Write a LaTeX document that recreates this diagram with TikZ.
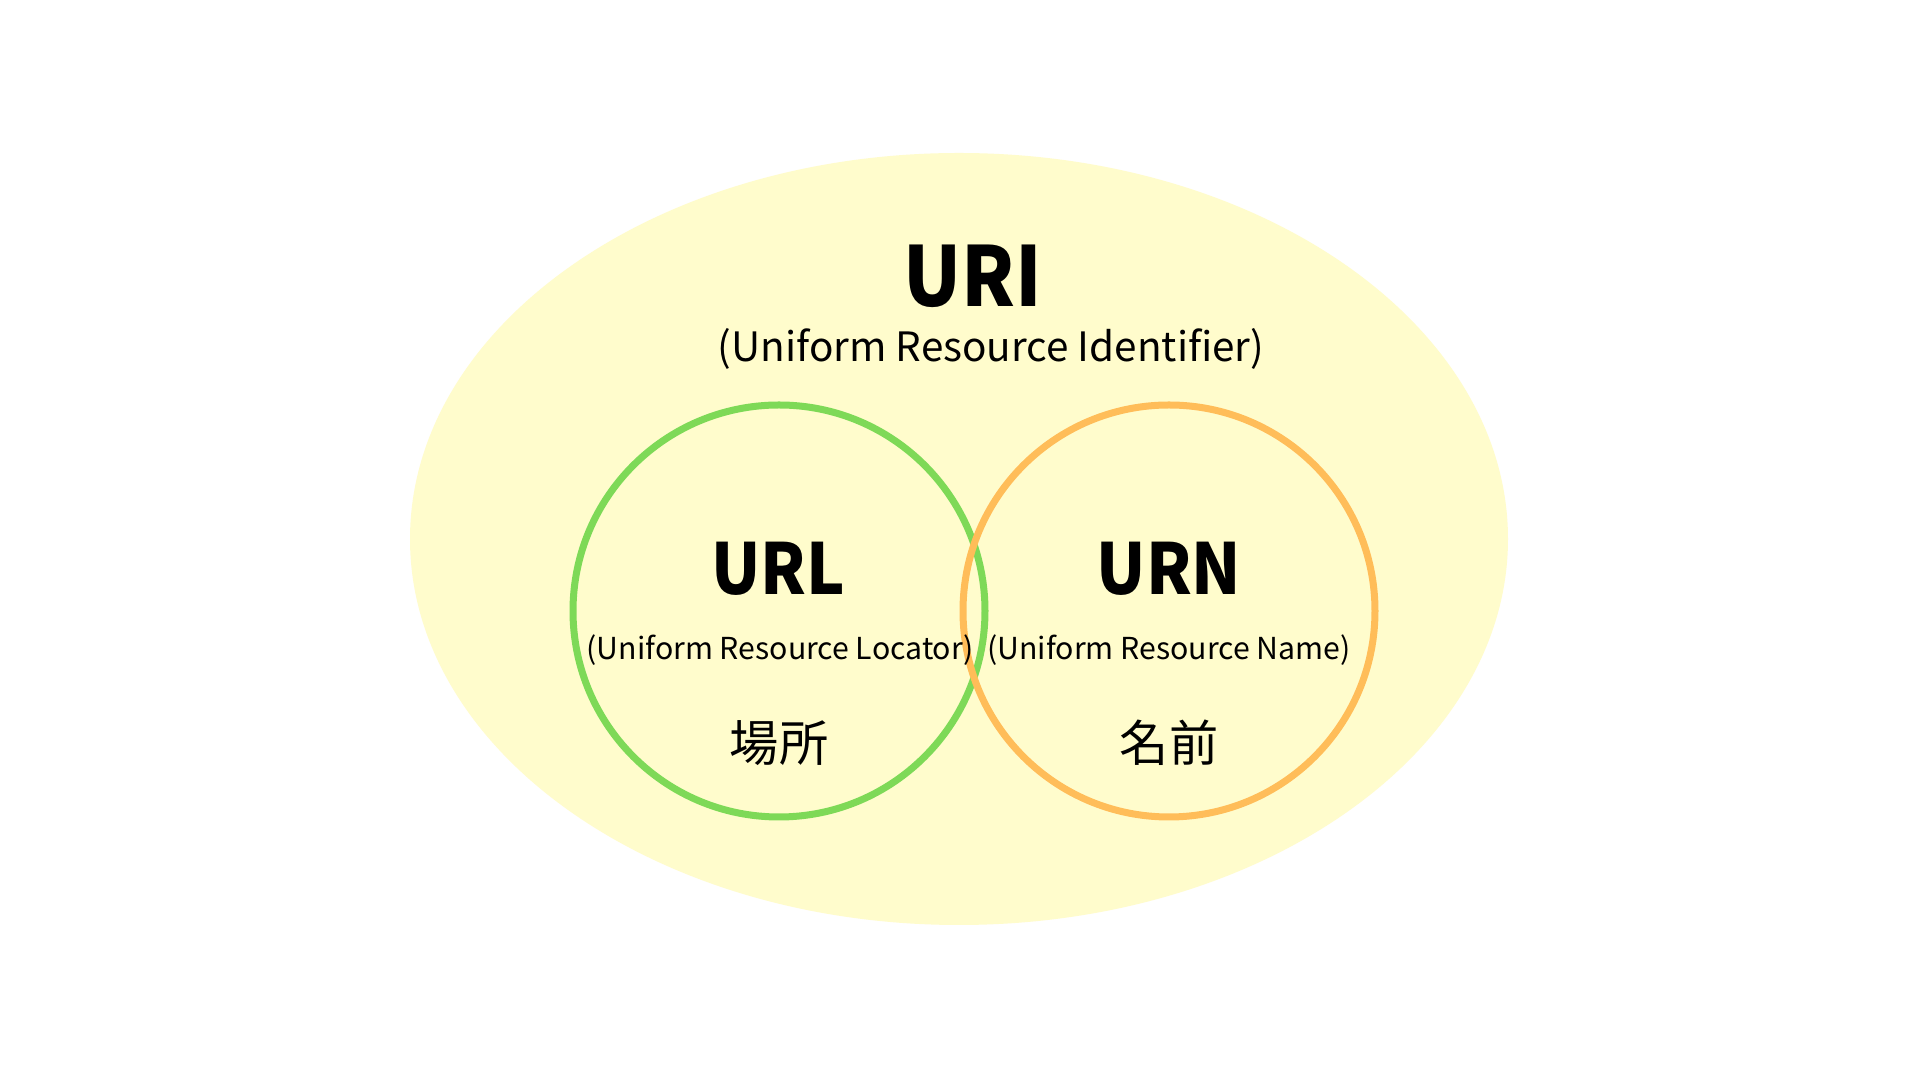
\documentclass[tikz,border=0pt]{standalone}
\usepackage{fontspec}
\setmainfont{Noto Sans CJK JP}
\newfontfamily\titlefont{Noto Sans CJK JP}[FakeStretch=0.92]
\definecolor{urifill}{RGB}{255,252,204}
\definecolor{urlgreen}{RGB}{126,217,87}
\definecolor{urnorange}{RGB}{255,189,89}
\begin{document}
\begin{tikzpicture}[x=0.01cm,y=-0.01cm,
  ring/.style={line width=0.07cm},
  bigtitle/.style={font=\titlefont\fontsize{23.5}{28}\selectfont\bfseries, inner sep=0pt},
  midtitle/.style={font=\titlefont\fontsize{20}{24}\selectfont\bfseries, inner sep=0pt},
  subtxt/.style={font=\fontsize{11.5}{14}\selectfont, inner sep=0pt},
  smalltxt/.style={font=\fontsize{8.6}{11}\selectfont, inner sep=0pt},
  jptxt/.style={font=\fontsize{14}{17}\selectfont, inner sep=0pt}]
\useasboundingbox (0,0) rectangle (1920,1080);
\fill[white] (0,0) rectangle (1920,1080);
\fill[urifill] (959,539) ellipse [x radius=549, y radius=386];
\draw[ring, urlgreen] (779,611) circle [radius=206];
\draw[ring, urnorange] (1169,611) circle [radius=206];
\node[bigtitle] (uri) at (973,276) {URI};
\node[subtxt] (urisub) at (991,349) {(Uniform Resource Identifier)};
\node[midtitle] (url) at (778,569) {URL};
\node[smalltxt] (urlsub) at (780,650) {(Uniform Resource Locator)};
\node[jptxt] (urljp) at (779,743) {場所};
\node[midtitle] (urn) at (1169,569) {URN};
\node[smalltxt] (urnsub) at (1169,650) {(Uniform Resource Name)};
\node[jptxt] (urnjp) at (1169,743) {名前};
\end{tikzpicture}
\end{document}
